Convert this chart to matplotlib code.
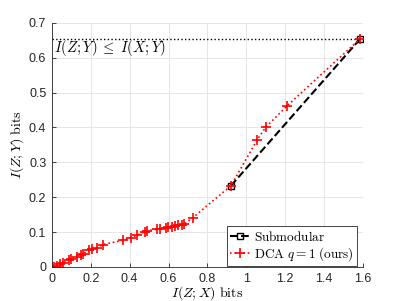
import matplotlib
matplotlib.use("Agg")
import matplotlib.pyplot as plt
import numpy as np

plt.rcParams['mathtext.fontset'] = 'cm'
plt.rcParams['font.family'] = ['Liberation Sans', 'DejaVu Sans']

# Data
sub_x = [0.921, 1.587]
sub_y = [0.233, 0.655]

dca_x = [0.0, 0.012, 0.027, 0.041, 0.055, 0.089, 0.101, 0.127, 0.149, 0.158,
         0.192, 0.204, 0.230, 0.261, 0.367, 0.405, 0.436, 0.478, 0.487, 0.539,
         0.556, 0.585, 0.598, 0.616, 0.633, 0.650, 0.667, 0.681, 0.724, 0.921,
         1.056, 1.099, 1.211, 1.587]
dca_y = [0.0, 0.001, 0.004, 0.008, 0.011, 0.021, 0.023, 0.028, 0.034, 0.037,
         0.049, 0.052, 0.054, 0.064, 0.077, 0.084, 0.091, 0.101, 0.103, 0.108,
         0.110, 0.112, 0.114, 0.116, 0.118, 0.120, 0.121, 0.123, 0.141, 0.233,
         0.365, 0.400, 0.463, 0.655]

bound_y = 0.655
xticks = [0, 0.2, 0.4, 0.6, 0.8, 1, 1.2, 1.4, 1.6]
yticks = [0, 0.1, 0.2, 0.3, 0.4, 0.5, 0.6, 0.7]

fig = plt.figure(figsize=(4.02, 3.01), dpi=100)
ax = fig.add_axes([0.129, 0.113, 0.774, 0.811])

ax.plot([0, sub_x[-1]], [bound_y, bound_y], color='black', linestyle=':', linewidth=1.0)
ax.text(0.012, 0.627, r'$I(Z;Y) \;\leq\; I(X;Y)$', fontsize=10.5, va='center', ha='left')

ax.plot(sub_x, sub_y, color='black', linestyle='--', linewidth=1.5, marker='s',
        markersize=5, markerfacecolor='none', markeredgewidth=1.0, label=r'$\mathrm{Submodular}$')
ax.plot(dca_x, dca_y, color='red', linestyle=':', linewidth=1.2, marker='+',
        markersize=6.5, markeredgewidth=1.2, label=r'$\mathrm{DCA}\ q=1\ \mathrm{(ours)}$')

ax.set_xlim(0, 1.6)
ax.set_ylim(0, 0.7)
ax.set_xticks(xticks)
ax.set_yticks(yticks)
ax.set_xticklabels(['0', '0.2', '0.4', '0.6', '0.8', '1', '1.2', '1.4', '1.6'])
ax.set_yticklabels(['0', '0.1', '0.2', '0.3', '0.4', '0.5', '0.6', '0.7'])
ax.tick_params(direction='in', length=3, width=0.6, labelsize=9, colors='#262626', pad=4)
ax.grid(True, color='#e6e6e6', linewidth=0.7)
ax.set_axisbelow(True)
for s in ['top', 'right']:
    ax.spines[s].set_visible(False)
for s in ['left', 'bottom']:
    ax.spines[s].set_color('#262626')
    ax.spines[s].set_linewidth(0.6)

ax.set_xlabel(r'$I(Z;X)\ \mathrm{bits}$', fontsize=10, labelpad=0)
ax.set_ylabel(r'$I(Z;Y)\ \mathrm{bits}$', fontsize=10, labelpad=2)

leg = ax.legend(loc='lower right', fontsize=9.5, frameon=True, fancybox=False,
                edgecolor='#262626', framealpha=1, handlelength=1.5,
                borderpad=0.25, labelspacing=0.1, handletextpad=0.3,
                borderaxespad=0, bbox_to_anchor=(0.982, 0.004))
leg.get_frame().set_linewidth(0.6)

fig.savefig('out.png', dpi=100)
